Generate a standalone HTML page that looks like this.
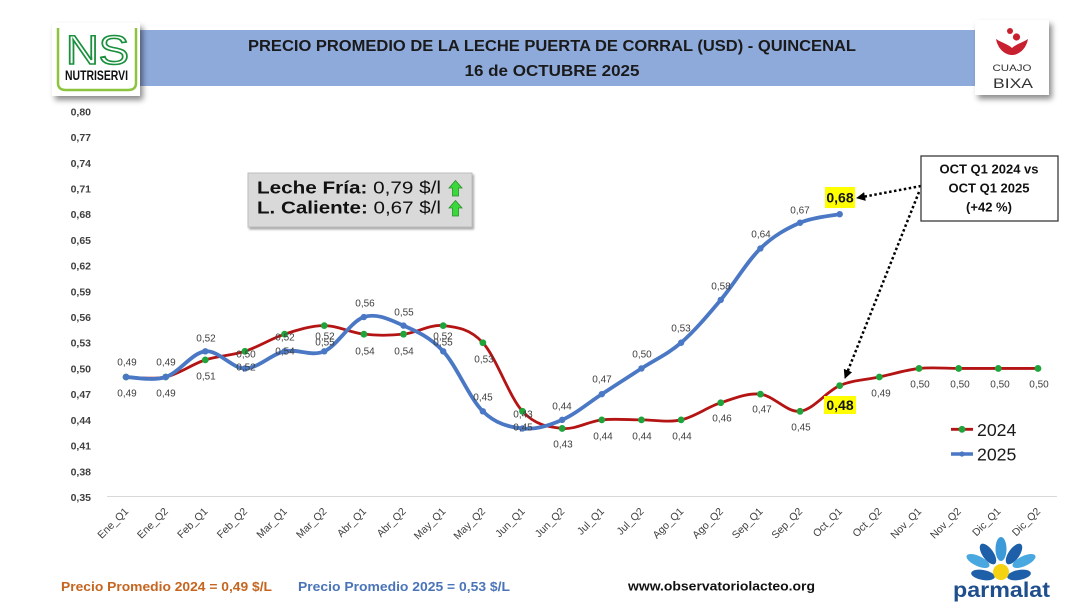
<!DOCTYPE html>
<html><head><meta charset="utf-8"><style>
html,body{margin:0;padding:0;background:#fff}
svg{display:block}
.dl{font-size:10px;fill:#404040;text-anchor:middle}
.yl{font-size:10.5px;font-weight:bold;fill:#404040;text-anchor:end}
.xl{font-size:10.5px;fill:#404040;text-anchor:end}
</style></head><body>
<svg width="1080" height="607" viewBox="0 0 1080 607" xmlns="http://www.w3.org/2000/svg" font-family="'Liberation Sans', Arial, sans-serif">
<defs>
<filter id="sh" x="-20%" y="-20%" width="150%" height="150%"><feDropShadow dx="3" dy="4" stdDeviation="3" flood-color="#000" flood-opacity="0.45"/></filter>
<filter id="sh2" x="-10%" y="-10%" width="130%" height="140%"><feDropShadow dx="1.5" dy="2" stdDeviation="1" flood-color="#000" flood-opacity="0.35"/></filter>
<marker id="ah" viewBox="0 0 10 10" refX="9" refY="5" markerWidth="3.6" markerHeight="3.6" orient="auto"><path d="M0,0 L10,5 L0,10 z" fill="#000"/></marker>
</defs>

<!-- Title band -->
<rect x="140" y="30" width="836" height="56" fill="#8eaadb"/>
<text x="552" y="51" text-anchor="middle" font-weight="bold" font-size="16" textLength="608" lengthAdjust="spacingAndGlyphs" fill="#1a1a1a">PRECIO PROMEDIO DE LA LECHE PUERTA DE CORRAL (USD) - QUINCENAL</text>
<text x="552" y="76" text-anchor="middle" font-weight="bold" font-size="16" textLength="175" lengthAdjust="spacingAndGlyphs" fill="#1a1a1a">16 de OCTUBRE 2025</text>

<!-- NS logo -->
<rect x="52" y="23" width="88" height="73" fill="#fff" filter="url(#sh)"/>
<path d="M58,28 L58,83 Q58,90 66,90 L128,90 Q136,90 136,83 L136,28" fill="none" stroke="#8cc43f" stroke-width="2.5"/>
<text x="66" y="64" font-size="41" textLength="63" lengthAdjust="spacingAndGlyphs" fill="#fff" stroke="#1a8f3c" stroke-width="1.6">NS</text>
<text x="65" y="80" font-size="13.5" font-weight="bold" textLength="63" lengthAdjust="spacingAndGlyphs" fill="#111">NUTRISERVI</text>

<!-- Cuajo Bixa logo -->
<rect x="975" y="20" width="74" height="75" fill="#fff" filter="url(#sh)"/>
<path d="M996,39 C998,50 1006,55 1012,55 C1018,55 1026,50 1028,39 C1022,43 1016,44 1012,48 C1008,44 1002,43 996,39 Z" fill="#c8202f"/>
<circle cx="1010" cy="31" r="3" fill="#c8202f"/>
<circle cx="1016.5" cy="37" r="3.6" fill="#c8202f"/>
<text x="1012" y="71" text-anchor="middle" font-size="9" textLength="39" lengthAdjust="spacingAndGlyphs" fill="#333">CUAJO</text>
<text x="1013" y="88" text-anchor="middle" font-size="14" textLength="40" lengthAdjust="spacingAndGlyphs" fill="#333">BIXA</text>

<!-- Y axis labels -->
<text class="yl" x="91" y="115.4">0,80</text>
<text class="yl" x="91" y="141.1">0,77</text>
<text class="yl" x="91" y="166.8">0,74</text>
<text class="yl" x="91" y="192.5">0,71</text>
<text class="yl" x="91" y="218.2">0,68</text>
<text class="yl" x="91" y="243.9">0,65</text>
<text class="yl" x="91" y="269.6">0,62</text>
<text class="yl" x="91" y="295.3">0,59</text>
<text class="yl" x="91" y="321">0,56</text>
<text class="yl" x="91" y="346.7">0,53</text>
<text class="yl" x="91" y="372.5">0,50</text>
<text class="yl" x="91" y="398.2">0,47</text>
<text class="yl" x="91" y="423.9">0,44</text>
<text class="yl" x="91" y="449.6">0,41</text>
<text class="yl" x="91" y="475.3">0,38</text>
<text class="yl" x="91" y="501">0,35</text>

<!-- X axis line -->
<line x1="107" y1="496.5" x2="1057" y2="496.5" stroke="#d9d9d9" stroke-width="1"/>

<!-- X labels -->
<g class="xl">
<text transform="translate(129,512) rotate(-45)">Ene_Q1</text>
<text transform="translate(168.65,512) rotate(-45)">Ene_Q2</text>
<text transform="translate(208.3,512) rotate(-45)">Feb_Q1</text>
<text transform="translate(247.95,512) rotate(-45)">Feb_Q2</text>
<text transform="translate(287.6,512) rotate(-45)">Mar_Q1</text>
<text transform="translate(327.25,512) rotate(-45)">Mar_Q2</text>
<text transform="translate(366.9,512) rotate(-45)">Abr_Q1</text>
<text transform="translate(406.55,512) rotate(-45)">Abr_Q2</text>
<text transform="translate(446.2,512) rotate(-45)">May_Q1</text>
<text transform="translate(485.85,512) rotate(-45)">May_Q2</text>
<text transform="translate(525.5,512) rotate(-45)">Jun_Q1</text>
<text transform="translate(565.15,512) rotate(-45)">Jun_Q2</text>
<text transform="translate(604.8,512) rotate(-45)">Jul_Q1</text>
<text transform="translate(644.45,512) rotate(-45)">Jul_Q2</text>
<text transform="translate(684.1,512) rotate(-45)">Ago_Q1</text>
<text transform="translate(723.75,512) rotate(-45)">Ago_Q2</text>
<text transform="translate(763.4,512) rotate(-45)">Sep_Q1</text>
<text transform="translate(803.05,512) rotate(-45)">Sep_Q2</text>
<text transform="translate(842.7,512) rotate(-45)">Oct_Q1</text>
<text transform="translate(882.35,512) rotate(-45)">Oct_Q2</text>
<text transform="translate(922,512) rotate(-45)">Nov_Q1</text>
<text transform="translate(961.65,512) rotate(-45)">Nov_Q2</text>
<text transform="translate(1001.3,512) rotate(-45)">Dic_Q1</text>
<text transform="translate(1040.95,512) rotate(-45)">Dic_Q2</text>
</g>

<!-- 2024 red series -->
<path d="M126,377.02 C132.61,377.02 152.43,379.88 165.65,377.02 S192.08,364.16 205.3,359.88 S231.73,355.59 244.95,351.31 S271.38,338.45 284.6,334.17 S311.03,325.6 324.25,325.6 S350.68,332.74 363.9,334.17 S390.33,335.6 403.55,334.17 S429.98,324.17 443.2,325.6 S469.63,328.45 482.85,342.74 S509.28,397.01 522.5,411.3 S548.93,427.01 562.15,428.44 S588.58,421.3 601.8,419.87 S628.23,419.87 641.45,419.87 S667.88,422.73 681.1,419.87 S707.53,407.01 720.75,402.73 S747.18,392.73 760.4,394.16 S786.83,412.73 800.05,411.3 S826.48,391.31 839.7,385.59 S866.13,379.88 879.35,377.02 S905.78,369.88 919,368.45 S945.43,368.45 958.65,368.45 S985.08,368.45 998.3,368.45 S1031.34,368.45 1037.95,368.45" fill="none" stroke="#b41414" stroke-width="2.8" stroke-linejoin="round"/>
<g fill="#1fa33b">
<circle cx="126" cy="377.02" r="3.4"/><circle cx="165.65" cy="377.02" r="3.4"/><circle cx="205.3" cy="359.88" r="3.4"/><circle cx="244.95" cy="351.31" r="3.4"/><circle cx="284.6" cy="334.17" r="3.4"/><circle cx="324.25" cy="325.6" r="3.4"/><circle cx="363.9" cy="334.17" r="3.4"/><circle cx="403.55" cy="334.17" r="3.4"/><circle cx="443.2" cy="325.6" r="3.4"/><circle cx="482.85" cy="342.74" r="3.4"/><circle cx="522.5" cy="411.3" r="3.4"/><circle cx="562.15" cy="428.44" r="3.4"/><circle cx="601.8" cy="419.87" r="3.4"/><circle cx="641.45" cy="419.87" r="3.4"/><circle cx="681.1" cy="419.87" r="3.4"/><circle cx="720.75" cy="402.73" r="3.4"/><circle cx="760.4" cy="394.16" r="3.4"/><circle cx="800.05" cy="411.3" r="3.4"/><circle cx="839.7" cy="385.59" r="3.4"/><circle cx="879.35" cy="377.02" r="3.4"/><circle cx="919" cy="368.45" r="3.4"/><circle cx="958.65" cy="368.45" r="3.4"/><circle cx="998.3" cy="368.45" r="3.4"/><circle cx="1037.95" cy="368.45" r="3.4"/>
</g>

<!-- 2025 blue series -->
<path d="M126,377.02 C132.61,377.02 152.43,381.3 165.65,377.02 S192.08,352.74 205.3,351.31 S231.73,368.45 244.95,368.45 S271.38,354.16 284.6,351.31 S311.03,357.03 324.25,351.31 S350.68,321.31 363.9,317.03 S390.33,319.88 403.55,325.6 S429.98,337.03 443.2,351.31 S469.63,398.44 482.85,411.3 S509.28,427.01 522.5,428.44 S548.93,425.59 562.15,419.87 S588.58,402.73 601.8,394.16 S628.23,377.02 641.45,368.45 S667.88,354.16 681.1,342.74 S707.53,315.6 720.75,299.89 S747.18,261.32 760.4,248.47 S786.83,228.48 800.05,222.76 S833.09,215.62 839.7,214.19" fill="none" stroke="#4a78c4" stroke-width="3.8" stroke-linejoin="round" stroke-linecap="round"/>
<g fill="#4a78c4">
<circle cx="126" cy="377.02" r="3.2"/><circle cx="165.65" cy="377.02" r="3.2"/><circle cx="205.3" cy="351.31" r="3.2"/><circle cx="244.95" cy="368.45" r="3.2"/><circle cx="284.6" cy="351.31" r="3.2"/><circle cx="324.25" cy="351.31" r="3.2"/><circle cx="363.9" cy="317.03" r="3.2"/><circle cx="403.55" cy="325.6" r="3.2"/><circle cx="443.2" cy="351.31" r="3.2"/><circle cx="482.85" cy="411.3" r="3.2"/><circle cx="522.5" cy="428.44" r="3.2"/><circle cx="562.15" cy="419.87" r="3.2"/><circle cx="601.8" cy="394.16" r="3.2"/><circle cx="641.45" cy="368.45" r="3.2"/><circle cx="681.1" cy="342.74" r="3.2"/><circle cx="720.75" cy="299.89" r="3.2"/><circle cx="760.4" cy="248.47" r="3.2"/><circle cx="800.05" cy="222.76" r="3.2"/><circle cx="839.7" cy="214.19" r="3.2"/>
</g>

<!-- Data labels -->
<g class="dl">
<text x="127" y="365.5">0,49</text><text x="127" y="396.5">0,49</text>
<text x="166" y="365.5">0,49</text><text x="166" y="396.5">0,49</text>
<text x="206" y="341.5">0,52</text><text x="206" y="379.5">0,51</text>
<text x="246" y="357.5">0,50</text><text x="246" y="370.5">0,52</text>
<text x="285" y="340.5">0,52</text><text x="285" y="354.5">0,54</text>
<text x="325" y="339.5">0,52</text><text x="325" y="345.5">0,55</text>
<text x="365" y="306.5">0,56</text><text x="365" y="354.5">0,54</text>
<text x="404" y="315.5">0,55</text><text x="404" y="354.5">0,54</text>
<text x="443" y="339.5">0,52</text><text x="443" y="345.5">0,55</text>
<text x="484" y="362.5">0,53</text><text x="483" y="400.5">0,45</text>
<text x="523" y="417.5">0,43</text><text x="523" y="430.5">0,45</text>
<text x="562" y="409.5">0,44</text><text x="563" y="447.5">0,43</text>
<text x="602" y="382.5">0,47</text><text x="603" y="439.5">0,44</text>
<text x="642" y="357.5">0,50</text><text x="642" y="439.5">0,44</text>
<text x="681" y="331.5">0,53</text><text x="682" y="439.5">0,44</text>
<text x="721" y="289.5">0,58</text><text x="722" y="421.5">0,46</text>
<text x="761" y="237.5">0,64</text><text x="762" y="412.5">0,47</text>
<text x="800" y="213.5">0,67</text><text x="801" y="430.5">0,45</text>
<text x="881" y="396.5">0,49</text>
<text x="920" y="387.5">0,50</text>
<text x="960" y="387.5">0,50</text>
<text x="1000" y="387.5">0,50</text>
<text x="1039" y="387.5">0,50</text>
</g>

<!-- Highlighted labels -->
<rect x="825" y="187" width="30" height="21" fill="#ffff00"/>
<text x="840" y="202.5" text-anchor="middle" font-size="14" font-weight="bold" fill="#111">0,68</text>
<rect x="824" y="396" width="32" height="18" fill="#ffff00"/>
<text x="840" y="410" text-anchor="middle" font-size="14" font-weight="bold" fill="#111">0,48</text>

<!-- Annotation arrows -->
<line x1="921" y1="186" x2="857" y2="198" stroke="#000" stroke-width="2.5" stroke-dasharray="2.5 2.5" marker-end="url(#ah)"/>
<line x1="919" y1="192" x2="845" y2="378" stroke="#000" stroke-width="2.5" stroke-dasharray="2.5 2.5" marker-end="url(#ah)"/>

<!-- Annotation box -->
<rect x="921" y="156" width="137" height="65" fill="#fff" stroke="#3a3a3a" stroke-width="1.3"/>
<g font-size="13" font-weight="bold" fill="#111" text-anchor="middle">
<text x="989" y="173.5">OCT Q1 2024 vs</text>
<text x="989" y="192.5">OCT Q1 2025</text>
<text x="989" y="211.5">(+42 %)</text>
</g>

<!-- Info box -->
<rect x="248" y="173" width="224" height="54" fill="#d9d9d9" stroke="#bdbdbd" stroke-width="1" filter="url(#sh2)"/>
<text x="257" y="193.3" font-size="17.5" fill="#111" textLength="184" lengthAdjust="spacingAndGlyphs"><tspan font-weight="bold">Leche Fría:</tspan> 0,79 $/l</text>
<text x="257" y="213.5" font-size="17.5" fill="#111" textLength="184" lengthAdjust="spacingAndGlyphs"><tspan font-weight="bold">L. Caliente:</tspan> 0,67 $/l</text>
<path d="M449,188 L455.5,180.5 L462,188 L458.5,188 L458.5,196 L452.5,196 L452.5,188 Z" fill="#3bd83b" stroke="#2a8f2a" stroke-width="0.8"/>
<path d="M449,208 L455.5,200.5 L462,208 L458.5,208 L458.5,216 L452.5,216 L452.5,208 Z" fill="#3bd83b" stroke="#2a8f2a" stroke-width="0.8"/>

<!-- Legend -->
<line x1="951" y1="429.3" x2="973" y2="429.3" stroke="#b41414" stroke-width="2.8"/>
<circle cx="962" cy="429.3" r="3.4" fill="#1fa33b"/>
<text x="977" y="436" font-size="17.7" fill="#1a1a1a">2024</text>
<line x1="951" y1="454" x2="973" y2="454" stroke="#4a78c4" stroke-width="3.5"/>
<circle cx="962" cy="454" r="2.6" fill="#4a78c4"/>
<text x="977" y="460.7" font-size="17.7" fill="#1a1a1a">2025</text>

<!-- Bottom texts -->
<text x="61" y="591" font-size="13" font-weight="bold" fill="#c5651f" textLength="211" lengthAdjust="spacingAndGlyphs">Precio Promedio 2024 = 0,49 $/L</text>
<text x="298" y="591" font-size="13" font-weight="bold" fill="#4a74b8" textLength="212" lengthAdjust="spacingAndGlyphs">Precio Promedio 2025 = 0,53 $/L</text>
<text x="628" y="590.5" font-size="13" font-weight="bold" fill="#111" textLength="187" lengthAdjust="spacingAndGlyphs">www.observatoriolacteo.org</text>

<!-- Parmalat logo -->
<g>
<ellipse cx="1001" cy="549" rx="5.5" ry="12" fill="#3c9ad8"/>
<ellipse cx="988" cy="554" rx="5.5" ry="12" fill="#1d5fa8" transform="rotate(-35 988 554)"/>
<ellipse cx="1014" cy="554" rx="5.5" ry="12" fill="#1d5fa8" transform="rotate(35 1014 554)"/>
<ellipse cx="978" cy="561" rx="5" ry="12.5" fill="#4aa8e0" transform="rotate(-65 978 561)"/>
<ellipse cx="1024" cy="561" rx="5" ry="12.5" fill="#4aa8e0" transform="rotate(65 1024 561)"/>
<ellipse cx="983" cy="575" rx="12" ry="5" fill="#1d5fa8" transform="rotate(10 983 575)"/>
<ellipse cx="1019" cy="575" rx="12" ry="5" fill="#1d5fa8" transform="rotate(-10 1019 575)"/>
<circle cx="1001" cy="572" r="8" fill="#f5d312"/>
<text x="953" y="597" font-size="21" font-weight="bold" fill="#1e4e8c" textLength="97" lengthAdjust="spacingAndGlyphs">parmalat</text>
</g>
</svg>
</body></html>
